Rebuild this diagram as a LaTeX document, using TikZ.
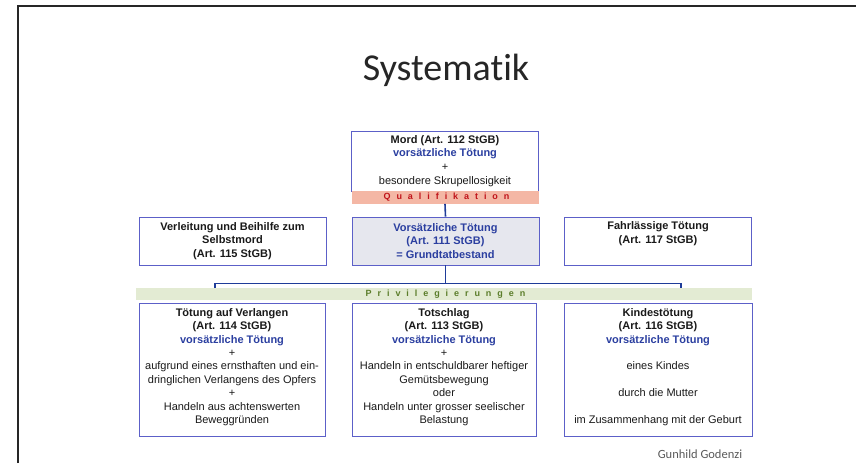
\documentclass[tikz,border=0pt]{standalone}
\usepackage{fontspec}
\setmainfont{Liberation Sans}
\newfontfamily\titlefont[Ligatures=NoCommon]{Carlito}
\newfontfamily\bandfont[LetterSpace=66]{Liberation Sans}
\definecolor{boxblue}{HTML}{5C60C8}
\definecolor{txtblue}{HTML}{2B3FA0}
\definecolor{linkblue}{HTML}{1F3C99}
\definecolor{qualired}{HTML}{C0141B}
\definecolor{qualifill}{HTML}{F4B7A5}
\definecolor{privgreen}{HTML}{5B7D2A}
\definecolor{privfill}{HTML}{E3EBD3}
\definecolor{grundfill}{HTML}{E6E7EE}
\newcommand{\vt}{{\color{txtblue}\bfseries vorsätzliche Tötung}}

\begin{document}
\begin{tikzpicture}[x=1pt,y=-1pt,
  kbox/.style={draw=boxblue,line width=0.9pt,rectangle,inner sep=0pt,minimum width=#1},
  kbox/.default=187pt,
  ktext/.style={align=center,inner sep=0pt,text=black!90,font=\fontsize{11}{13.4}\selectfont},
  kband/.style={rectangle,inner sep=0pt,fill=#1,minimum height=12.5pt},
  bandtext/.style={font=\bandfont\bfseries\fontsize{9}{10}\selectfont,text=#1},
  klink/.style={draw=linkblue,line width=1.6pt}]
\useasboundingbox (0,0) rectangle (856,463);
% slide frame
\draw[line width=1.7pt,black!85] (18,463) -- (18,6) -- (856,6);
\node[font=\titlefont\fontsize{38}{40}\selectfont,text=black!85] (title) at (446,70) {Systematik};

% Qualifikation
\node[kbox,minimum height=60pt] (mord) at (445,161) {};
\node[ktext] (mordtxt) at (mord.center) {{\bfseries Mord (Art. 112 StGB)}\\ \vt\\ +\\[1pt] besondere Skrupellosigkeit};
\node[kband=qualifill,minimum width=187pt] (quali) at (445,197.5) {};
\node[bandtext=qualired] (qualitxt) at ([xshift=1.5pt]quali.center) {Qualifikation};

% mittlere Reihe
\node[kbox,minimum height=48pt] (verl) at (232.5,241) {};
\node[ktext] (verltxt) at (verl.center) {\bfseries Verleitung und Beihilfe zum\\ \bfseries Selbstmord\\ \bfseries (Art. 115 StGB)};
\node[kbox,minimum height=48pt,fill=grundfill] (grund) at (445.5,241) {};
\node[ktext,text=txtblue,font=\bfseries\fontsize{11}{13.4}\selectfont] (grundtxt) at (grund.center) {Vorsätzliche Tötung\\ (Art. 111 StGB)\\ = Grundtatbestand};
\node[kbox,minimum height=48pt] (fahr) at (658,241) {};
\node[ktext,anchor=north] (fahrtxt) at ([yshift=-5pt]fahr.north) {\bfseries Fahrlässige Tötung\\ \bfseries (Art. 117 StGB)};

% Privilegierungen
\node[kband=privfill,minimum width=616pt] (privi) at (444,294) {};
\node[bandtext=privgreen] (privitxt) at ([xshift=1.5pt]privi.center) {Privilegierungen};
\node[kbox=186pt,minimum height=133pt] (verlangen) at (232,369.5) {};
\node[ktext,anchor=north] (verlangentxt) at ([yshift=-5.5pt]verlangen.north) {{\bfseries Tötung auf Verlangen}\\ {\bfseries (Art. 114 StGB)}\\ \vt\\ +\\ aufgrund eines ernsthaften und ein-\\ dringlichen Verlangens des Opfers\\ +\\ Handeln aus achtenswerten\\ Beweggründen};
\node[kbox=184pt,minimum height=133pt] (totschlag) at (444,369.5) {};
\node[ktext,anchor=north] (totschlagtxt) at ([yshift=-5.5pt]totschlag.north) {{\bfseries Totschlag}\\ {\bfseries (Art. 113 StGB)}\\ \vt\\ +\\ Handeln in entschuldbarer heftiger\\ Gemütsbewegung\\ oder\\ Handeln unter grosser seelischer\\ Belastung};
\node[kbox=188pt,minimum height=133pt] (kind) at (658,369.5) {};
\node[ktext,anchor=north] (kindtxt) at ([yshift=-5.5pt]kind.north) {{\bfseries Kindestötung}\\ {\bfseries (Art. 116 StGB)}\\ \vt\\[13.4pt] eines Kindes\\[13.4pt] durch die Mutter\\[13.4pt] im Zusammenhang mit der Geburt};

% Verbindungen
\draw[klink] (quali.south) -- (grund.north);
\coordinate (gabel) at ([yshift=-18pt]grund.south);
\coordinate (links) at (215,288);
\coordinate (rechts) at (681,288);
\draw[klink] (grund.south) -- (gabel);
\draw[klink] (links) -- (links |- gabel) -- (rechts |- gabel) -- (rechts);

\node[font=\titlefont\fontsize{12.5}{14}\selectfont,text=black!65] (autor) at (700,454) {Gunhild Godenzi};
\end{tikzpicture}
\end{document}
